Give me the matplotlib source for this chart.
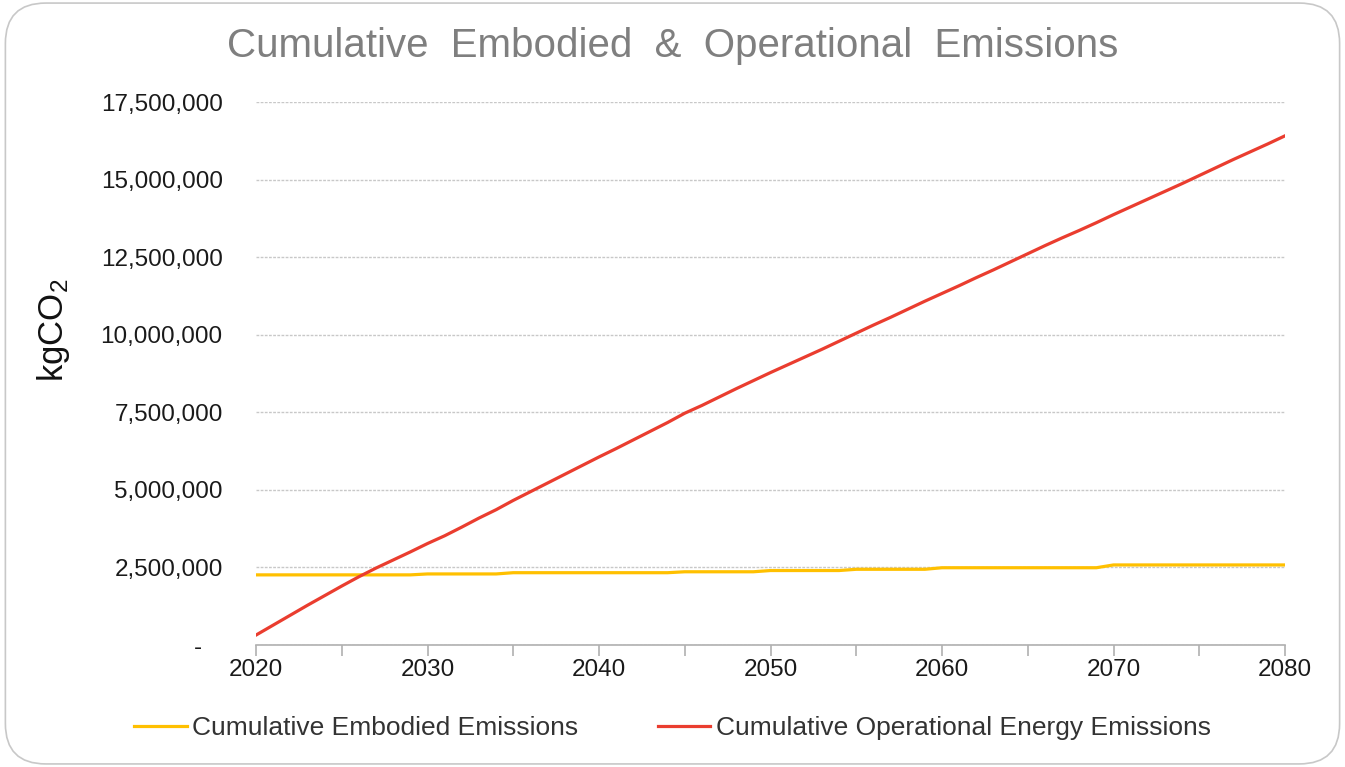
import matplotlib.pyplot as plt
from matplotlib.patches import FancyBboxPatch
from matplotlib.ticker import FuncFormatter, MultipleLocator

plt.rcParams['font.family'] = ['Liberation Sans', 'DejaVu Sans']
plt.rcParams['mathtext.fontset'] = 'custom'
plt.rcParams['mathtext.rm'] = 'Liberation Sans'
plt.rcParams['mathtext.it'] = 'Liberation Sans'

years = list(range(2020, 2081))

# cumulative embodied emissions (kgCO2), stepped replacement cycles
embodied = ([2260000] * 10 + [2290000] * 5 + [2330000] * 10 + [2360000] * 5
            + [2400000] * 5 + [2440000] * 5 + [2490000] * 10 + [2580000] * 11)

# cumulative operational energy emissions (kgCO2)
operational = [
    320000, 640000, 960000, 1280000, 1590000, 1900000, 2200000, 2480000,
    2740000, 3000000, 3270000, 3520000, 3800000, 4090000, 4360000, 4660000,
    4940000, 5220000, 5500000, 5780000, 6060000, 6330000, 6610000, 6890000,
    7170000, 7470000, 7720000, 7990000, 8260000, 8520000, 8780000, 9030000,
    9280000, 9530000, 9790000, 10050000, 10310000, 10560000, 10820000,
    11080000, 11330000, 11580000, 11840000, 12090000, 12350000, 12610000,
    12870000, 13120000, 13360000, 13610000, 13870000, 14120000, 14370000,
    14620000, 14870000, 15130000, 15390000, 15650000, 15900000, 16150000,
    16410000,
]

fig = plt.figure(figsize=(13.45, 7.67), dpi=100)
frame = FancyBboxPatch((0.004, 0.004), 0.992, 0.992,
                       boxstyle="round,pad=0,rounding_size=0.03",
                       transform=fig.transFigure, facecolor='white',
                       edgecolor='#c8c8c8', linewidth=1.2,
                       mutation_aspect=1345 / 767, zorder=-10)
fig.patches.append(frame)

ax = fig.add_axes([256 / 1345, 1 - 645 / 767, 1029 / 1345, 543 / 767])
ax.set_facecolor('none')

ax.plot(years, embodied, color='#FFC000', linewidth=2.3,
        label='Cumulative Embodied Emissions')
ax.plot(years, operational, color='#EA3D2F', linewidth=2.3,
        label='Cumulative Operational Energy Emissions')

ax.set_xlim(2020, 2080)
ax.set_ylim(0, 17500000)
ax.xaxis.set_major_locator(MultipleLocator(10))
ax.xaxis.set_minor_locator(MultipleLocator(5))
ax.yaxis.set_major_locator(MultipleLocator(2500000))
# accounting style: zero shown as a dash
ax.yaxis.set_major_formatter(FuncFormatter(lambda v, p: '-   ' if v == 0 else f'{int(v):,}'))

ax.grid(axis='y', color='#c8c8c8', linestyle=(0, (2, 1)), linewidth=1.0)
ax.set_axisbelow(True)
for side in ['top', 'right', 'left']:
    ax.spines[side].set_visible(False)
ax.spines['bottom'].set_color('#b0b0b0')
ax.spines['bottom'].set_linewidth(1.2)

ax.tick_params(axis='x', which='both', direction='out', length=8, width=1.2,
               color='#b0b0b0', labelsize=17.5, pad=2, labelcolor='#1a1a1a')
ax.tick_params(axis='y', length=0, labelsize=17.5, pad=24, labelcolor='#1a1a1a')

ax.set_ylabel('kgCO$_2$', fontsize=25, color='#111111')
ax.yaxis.set_label_coords(-0.179, 0.58)
fig.text(0.5, 1 - 46 / 767, 'Cumulative  Embodied  &  Operational  Emissions',
         ha='center', va='center', fontsize=29, color='#7f7f7f')

fig.legend(loc='center', bbox_to_anchor=(0.5, 1 - 728 / 767), ncol=2,
           frameon=False, fontsize=19, handlelength=2.0, handletextpad=0.2,
           columnspacing=3.0, labelcolor='#333333')

fig.savefig('out.png', dpi=100)
